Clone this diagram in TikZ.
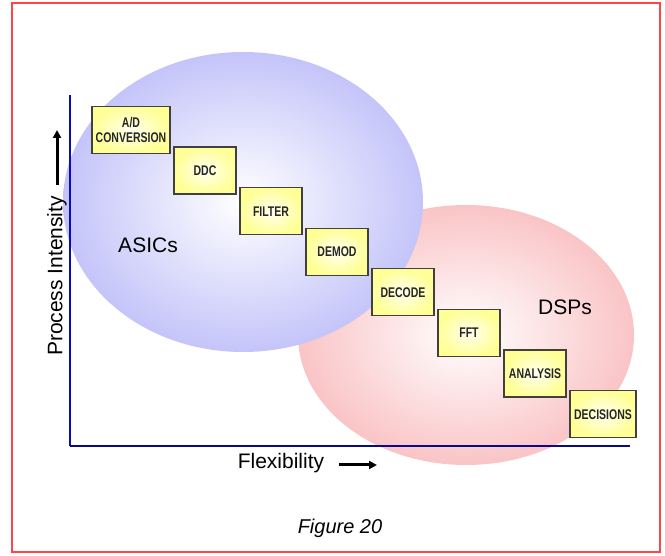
\documentclass[tikz,border=0pt]{standalone}
\usepackage{fontspec}
\setmainfont{Liberation Sans}
\newfontfamily\stagefont[FakeStretch=0.75]{Liberation Sans}
\usetikzlibrary{positioning,arrows.meta}

\definecolor{frameRed}{RGB}{255,70,70}
\definecolor{asicBlue}{RGB}{196,196,250}
\definecolor{dspRed}{RGB}{250,196,198}
\definecolor{stageYellow}{RGB}{255,255,150}
\definecolor{axisNavy}{RGB}{10,10,130}
\definecolor{axisBlue}{RGB}{10,10,200}

\tikzset{
  stage/.style={draw=black!75, line width=1.2pt, inner color=stageYellow!15!white,
    outer color=stageYellow, minimum width=62pt, minimum height=47pt, inner sep=2pt,
    align=center, text=black!85, font=\stagefont\bfseries\fontsize{14}{15}\selectfont},
  region/.style={font=\fontsize{21}{25}\selectfont},
  axislabel/.style={font=\fontsize{21}{25}\selectfont},
  axisarrow/.style={line width=3pt, -{Triangle[length=8pt,width=8pt]}}
}

\begin{document}
\begin{tikzpicture}[x=1pt, y=1pt]
		\useasboundingbox (0,0) rectangle (665,556);
		\draw[frameRed, line width=1.2pt] (12,4) rectangle (660,553);

		% Regions
		\shade[inner color=white, outer color=dspRed] (466,221) ellipse [x radius=168, y radius=130];
		\shade[inner color=white, outer color=asicBlue] (243,354) ellipse [x radius=180, y radius=150];
		\node[region] (asics) at (148,311) {ASICs};
		\node[region] (dsps) at (565,249) {DSPs};

		% Axes
		\coordinate (origin) at (70,110);
		\coordinate (ytop) at (70,461);
		\coordinate (xend) at (630,110);
		\draw[axisBlue, line width=2pt] (origin) -- (ytop);
		\draw[axisNavy, line width=2pt] (origin) -- (xend);

		\node[axislabel, rotate=90] (intensity) at (57,280) {Process Intensity};
		\coordinate (itip) at (57,426);
		\draw[axisarrow] (intensity.east) ++(0,8) coordinate (ibase) -- (itip);
		\node[axislabel] (flex) at (281,93) {Flexibility};
		\coordinate (ftip) at (377,91);
		\draw[axisarrow] ([xshift=11pt, yshift=-2pt]flex.east) coordinate (fbase) -- (ftip);

		% Define nodes
		\node[stage, minimum width=78pt] (AD) at (131,426) {A/D\\CONVERSION};
		\node[stage, below right=-7.6pt and 2.8pt of AD] (DDC) {DDC};
		\node[stage, below right=-7.6pt and 2.8pt of DDC] (FILTER) {FILTER};
		\node[stage, below right=-7.6pt and 2.8pt of FILTER] (DEMOD) {DEMOD};
		\node[stage, below right=-7.6pt and 2.8pt of DEMOD] (DECODE) {DECODE};
		\node[stage, below right=-7.6pt and 2.8pt of DECODE] (FFT) {FFT};
		\node[stage, below right=-7.6pt and 2.8pt of FFT] (ANALYSIS) {ANALYSIS};
		\node[stage, minimum width=66pt, below right=-7.6pt and 2.8pt of ANALYSIS] (DECISIONS) {DECISIONS};

		\node[font=\itshape\fontsize{20}{24}\selectfont] (caption) at (340,28) {Figure 20};
	\end{tikzpicture}
\end{document}
